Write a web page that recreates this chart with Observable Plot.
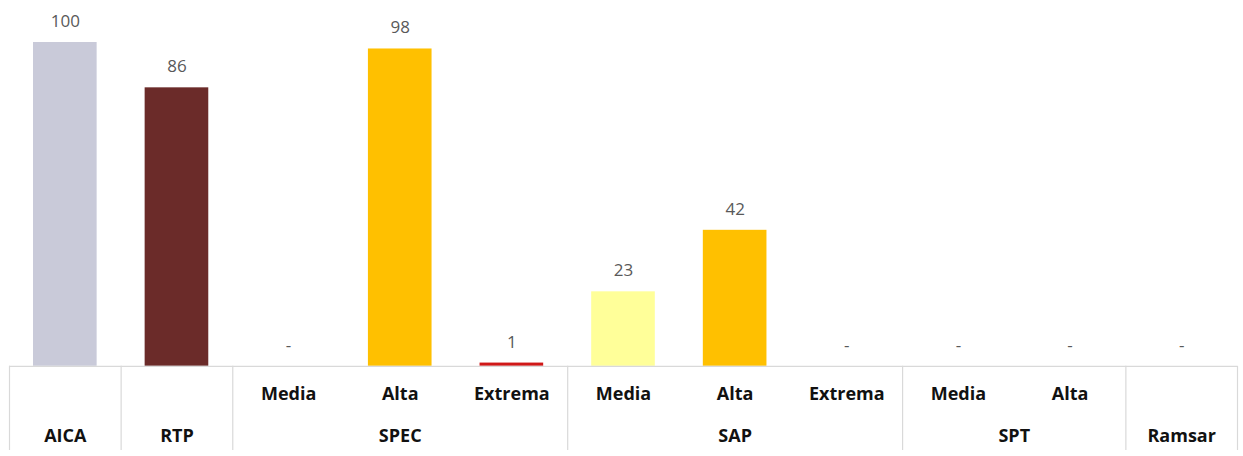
<!DOCTYPE html>
<html>
<head>
<meta charset="utf-8">
<script src="https://cdn.jsdelivr.net/npm/d3@7"></script>
<script src="https://cdn.jsdelivr.net/npm/@observablehq/plot@0.6"></script>
<style>
  html, body { margin: 0; padding: 0; background: #fff; }
  #chart svg { display: block; }
</style>
</head>
<body>
<div id="chart"></div>
<script>
// Data
const groups = ["AICA", "RTP", "SPEC", "SPEC", "SPEC", "SAP", "SAP", "SAP", "SPT", "SPT", "Ramsar"];
const levels = ["", "", "Media", "Alta", "Extrema", "Media", "Alta", "Extrema", "Media", "Alta", ""];
const values = [100, 86, 0, 98, 1, 23, 42, 0, 0, 0, 0];
const valueLabels = ["100", "86", "-", "98", "1", "23", "42", "-", "-", "-", "-"];
const colorKeys = ["AICA", "RTP", "Media", "Alta", "Extrema"];
const colorValues = ["#c9cad9", "#6b2b29", "#ffff99", "#ffc000", "#d01818"];

const rows = groups.map((g, i) => ({
  i,
  group: g,
  level: levels[i],
  value: values[i],
  label: valueLabels[i],
  key: levels[i] === "" ? g : levels[i]
}));

// group boundaries and centers
const boundaries = [0];
for (let i = 1; i < groups.length; i++) if (groups[i] !== groups[i - 1]) boundaries.push(i);
boundaries.push(groups.length);
const groupRows = [];
for (let k = 0; k < boundaries.length - 1; k++) {
  groupRows.push({ group: groups[boundaries[k]], center: (boundaries[k] + boundaries[k + 1]) / 2 });
}
const levelRows = rows.filter(d => d.level !== "");

const FONT = "'Open Sans', sans-serif";

const chart = Plot.plot({
  width: 1243,
  height: 456,
  marginLeft: 9,
  marginRight: 6,
  marginTop: 42,
  marginBottom: 6,
  style: { fontFamily: FONT, background: "#fff" },
  x: { domain: [0, groups.length], axis: null },
  y: { domain: [-26, 100], axis: null },
  color: { domain: colorKeys, range: colorValues },
  marks: [
    Plot.rectY(rows.filter(d => d.value > 0), {
      x1: "i", x2: d => d.i + 1, y1: 0, y2: "value",
      fill: "key", insetLeft: 24, insetRight: 24
    }),
    Plot.ruleY([0], { x1: 0, x2: groups.length, stroke: "#d9d9d9", strokeWidth: 1.2 }),
    Plot.ruleX(boundaries, { x: d => d, y1: 0, y2: -26, stroke: "#d9d9d9", strokeWidth: 1.2 }),
    Plot.text(rows, {
      x: d => d.i + 0.5, y: "value", text: "label",
      dy: -21, fill: "#595959", fontSize: 17, fontFamily: FONT
    }),
    Plot.text(levelRows, {
      x: d => d.i + 0.5, y: 0, text: "level",
      dy: 28, fill: "#111", fontSize: 18, fontWeight: "bold", fontFamily: FONT
    }),
    Plot.text(groupRows, {
      x: "center", y: 0, text: "group",
      dy: 70, fill: "#111", fontSize: 18, fontWeight: "bold", fontFamily: FONT
    })
  ]
});

document.getElementById("chart").appendChild(chart);
</script>
</body>
</html>
